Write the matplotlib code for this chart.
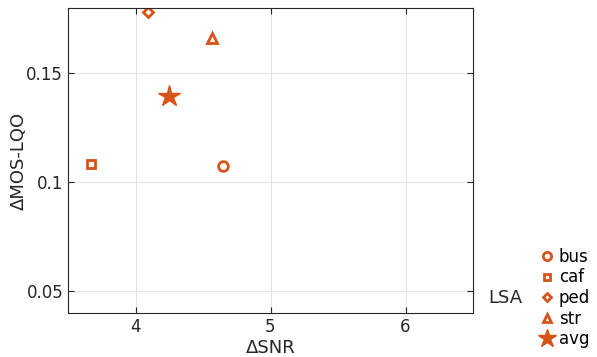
import matplotlib
matplotlib.use("Agg")
import matplotlib.pyplot as plt

labels = ["bus", "caf", "ped", "str", "avg"]
snr = [4.65, 3.67, 4.09, 4.57, 4.25]
mos = [0.1073, 0.1083, 0.178, 0.166, 0.1395]
markers = ["o", "s", "D", "^", "*"]
sizes = [7, 5.5, 7, 7, 16]
color = "#D95319"

plt.rcParams['font.family'] = ['DejaVu Sans']
fig = plt.figure(figsize=(5.97, 3.57), dpi=100)
ax = fig.add_axes([68/597, 1-313/357, (473-68)/597, (313-8)/357])

handles = []
for x, y, m, s, lab in zip(snr, mos, markers, sizes, labels):
    if m == "*":
        h, = ax.plot([x], [y], marker=m, ms=s, color=color, mfc=color, mec=color, ls="none", label=lab)
    else:
        ms = s * (0.75 if m == "D" else 1)
        h, = ax.plot([x], [y], marker=m, ms=ms, color=color, mfc="none", mec=color, mew=2, ls="none", label=lab)
    handles.append(h)

ax.set_xlim(3.5, 6.5)
ax.set_ylim(0.04, 0.18)
ax.set_xticks([4, 5, 6])
ax.set_xticklabels(["4", "5", "6"])
ax.set_yticks([0.05, 0.1, 0.15])
ax.set_yticklabels(["0.05", "0.1", "0.15"])
ax.grid(True, color="#e3e3e3", lw=0.8)
ax.set_axisbelow(True)
ax.tick_params(direction="in", top=True, right=True, labelsize=12, colors="#262626", length=4)
for sp in ax.spines.values():
    sp.set_color("#262626")
    sp.set_linewidth(0.8)
ax.set_xlabel("ΔSNR", fontsize=13, labelpad=2, color="#262626")
ax.set_ylabel("ΔMOS-LQO", fontsize=13, color="#262626", va="center")
ax.yaxis.set_label_coords(-0.121, 0.5)

leg = fig.legend(handles=handles, labels=labels, loc="center left",
                 bbox_to_anchor=(532/597, 1-298/357), frameon=False,
                 fontsize=12, handlelength=0.8, handletextpad=0.3,
                 labelspacing=0.15, borderpad=0, markerscale=0.85)
fig.text(488/597, 1-298/357, "LSA", fontsize=13, va="center", ha="left", color="#262626")

fig.savefig("out.png", dpi=100)
